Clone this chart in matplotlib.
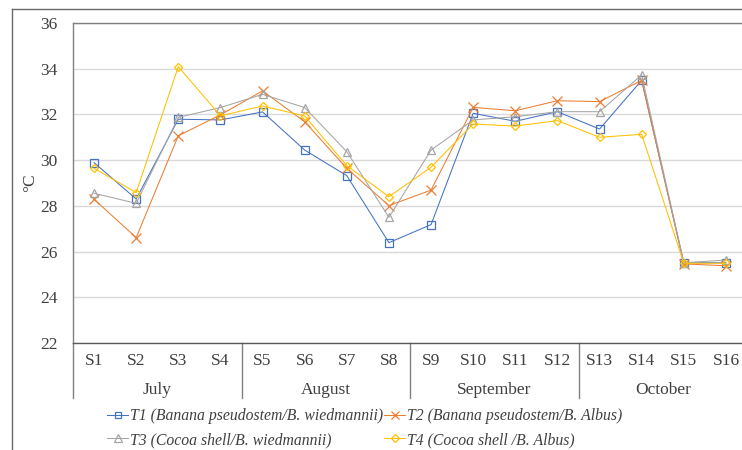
import matplotlib
matplotlib.use("Agg")
import matplotlib.pyplot as plt
from matplotlib.lines import Line2D
import numpy as np

samples = ["S1", "S2", "S3", "S4", "S5", "S6", "S7", "S8",
           "S9", "S10", "S11", "S12", "S13", "S14", "S15", "S16"]
months = ["July", "August", "September", "October"]
series_names = ["T1 (Banana pseudostem/B. wiedmannii)",
                "T2 (Banana pseudostem/B. Albus)",
                "T3 (Cocoa shell/B. wiedmannii)",
                "T4 (Cocoa shell /B. Albus)"]
t1 = [29.89, 28.30, 31.79, 31.76, 32.11, 30.44, 29.32, 26.39,
      27.18, 32.05, 31.70, 32.12, 31.36, 33.49, 25.51, 25.51]
t2 = [28.29, 26.61, 31.07, 31.98, 33.03, 31.68, 29.64, 28.01,
      28.69, 32.31, 32.16, 32.60, 32.56, 33.49, 25.46, 25.38]
t3 = [28.55, 28.11, 31.87, 32.30, 32.88, 32.30, 30.37, 27.50,
      30.44, 31.76, 31.90, 32.12, 32.12, 33.73, 25.51, 25.63]
t4 = [29.64, 28.58, 34.09, 31.94, 32.37, 31.93, 29.76, 28.40,
      29.69, 31.58, 31.49, 31.73, 31.00, 31.13, 25.49, 25.49]
yticks = [22, 24, 26, 28, 30, 32, 34, 36]

colors = ["#4472C4", "#ED7D31", "#A5A5A5", "#FFC000"]
markers = ["s", "x", "^", "D"]
msizes = [5.5, 7, 6, 4.5]

plt.rcParams['font.family'] = ['Liberation Serif', 'DejaVu Serif']

W, H = 742, 450
fig = plt.figure(figsize=(W / 100, H / 100), dpi=100)

# outer chart border (cropped chart)
fig.add_artist(Line2D([12 / W, 12 / W], [0, 1 - 9 / H], transform=fig.transFigure,
                      color="#6a6a6a", lw=1.0))
fig.add_artist(Line2D([12 / W, 1], [1 - 9 / H, 1 - 9 / H], transform=fig.transFigure,
                      color="#6a6a6a", lw=1.0))

ax_l, ax_r, ax_t, ax_b = 73, 747, 23, 343
ax = fig.add_axes([ax_l / W, 1 - ax_b / H, (ax_r - ax_l) / W, (ax_b - ax_t) / H])

x = np.arange(len(samples))
data = [t1, t2, t3, t4]
handles = []
for vals, c, m, ms, name in zip(data, colors, markers, msizes, series_names):
    h, = ax.plot(x, vals, color=c, lw=0.75, marker=m, markersize=ms,
                 markerfacecolor="none", markeredgecolor=c, markeredgewidth=0.9,
                 label=name, clip_on=False, zorder=3)
    handles.append(h)

ax.set_xlim(-0.5, len(samples) - 0.5)
ax.set_ylim(22, 36)
ax.set_yticks(yticks)
ax.set_yticklabels([str(v) for v in yticks], fontsize=12.5, color="#404040")
ax.tick_params(axis="y", length=0, pad=11)
ax.grid(axis="y", color="#D9D9D9", lw=1.0)
ax.set_axisbelow(True)
ax.set_xticks([])

for s in ["left", "top"]:
    ax.spines[s].set_color("#808080")
    ax.spines[s].set_linewidth(1.0)
ax.spines["right"].set_visible(False)
ax.spines["bottom"].set_color("#595959")
ax.spines["bottom"].set_linewidth(1.0)

# category labels
trans = ax.get_xaxis_transform()
for i, s in enumerate(samples):
    ax.text(i, -18 / (ax_b - ax_t), s, transform=trans, ha="center", va="center",
            fontsize=12.5, color="#404040")
n_per = len(samples) // len(months)
for j, mth in enumerate(months):
    center = j * n_per + (n_per - 1) / 2
    ax.text(center, -47 / (ax_b - ax_t), mth, transform=trans, ha="center", va="center",
            fontsize=12.5, color="#404040")
for j in range(len(months) + 1):
    xb = j * n_per - 0.5
    ax.add_line(Line2D([xb, xb], [0, -55 / (ax_b - ax_t)], transform=trans,
                       color="#808080", lw=1.0, clip_on=False))

fig.text(30 / W, 1 - 183 / H, "°C", rotation=90, ha="center", va="center",
         fontsize=12.5, color="#404040")

order = [0, 2, 1, 3]
leg = fig.legend([handles[i] for i in order], [series_names[i] for i in order],
                 ncol=2, frameon=False, loc="center left",
                 bbox_to_anchor=(107 / W, 1 - 428 / H),
                 prop={"style": "italic", "size": 11.3},
                 handlelength=1.35, handletextpad=0.12, columnspacing=0.05,
                 labelspacing=0.5, borderaxespad=0, borderpad=0, markerscale=0.85)
for t in leg.get_texts():
    t.set_color("#404040")

fig.savefig("out.png", dpi=100)
